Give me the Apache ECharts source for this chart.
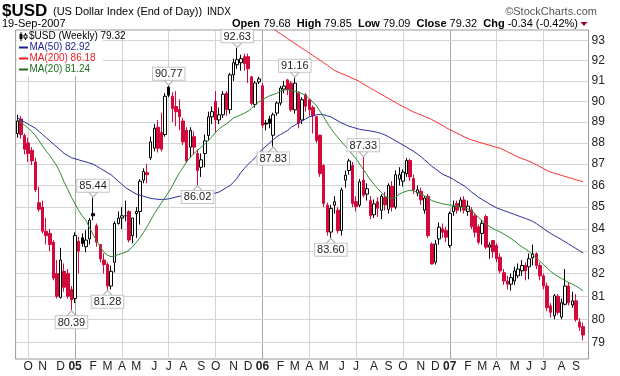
<!DOCTYPE html>
<html><head><meta charset="utf-8">
<script src="https://cdn.jsdelivr.net/npm/echarts@6/dist/echarts.min.js"></script>
<style>html,body{margin:0;padding:0;background:#fff}#c{width:620px;height:376px}</style>
</head><body><div id="c"></div>
<script>
// ---- DATA (weekly bars, first bar = week of 13-Sep-2004) ----
const firstWeek = '2004-09-13';
const open = [88.45,89.15,88.35,88.0,87.65,87.1,85.2,85.0,83.9,83.8,
83.4,82.0,80.95,82.1,82.0,81.3,80.9,83.45,83.6,83.2,
83.55,84.7,84.15,83.3,82.6,82.4,81.45,82.5,84.25,84.5,
84.6,84.8,83.7,84.7,84.8,86.25,86.6,87.3,87.75,88.75,
88.5,88.4,90.7,90.25,89.75,89.6,89.05,88.6,87.8,88.3,
87.5,86.85,87.5,88.35,89.25,90.0,89.1,89.35,90.4,89.6,
91.3,91.8,91.9,92.2,92.2,91.2,89.85,90.95,90.76,88.95,
89.15,88.37,89.43,89.92,90.6,91.05,90.89,89.59,90.4,89.1,
90.32,90.08,89.7,89.26,88.37,86.93,85.09,83.86,85.09,84.86,
83.93,86.25,86.7,86.93,85.25,85.09,86.25,85.6,85.3,84.65,
85.25,84.85,85.45,84.9,85.95,85.0,86.3,86.2,86.55,87.17,
86.32,85.65,85.73,84.86,85.5,83.32,82.51,83.55,84.01,83.93,
83.25,84.79,85.17,85.02,85.33,84.8,84.87,84.6,84.1,83.8,
84.57,83.18,83.48,83.25,82.73,82.04,81.67,81.53,81.67,81.9,
82.12,82.36,82.3,82.7,82.88,82.36,81.9,81.45,80.58,80.15,
81.0,80.1,80.65,81.45,80.62,80.8,79.88,79.68];
const close = [89.05,88.4,87.7,87.5,87.15,85.8,84.9,83.9,83.7,83.3,
81.8,81.0,82.6,81.4,81.0,80.85,83.7,83.0,83.35,83.5,
84.4,84.6,83.4,82.65,82.4,81.45,82.1,84.25,84.5,84.6,
84.6,83.5,84.5,84.8,86.2,86.65,86.5,88.05,88.7,87.75,
87.7,90.25,90.3,89.65,89.5,89.25,88.05,87.15,88.6,87.8,
86.7,87.2,88.1,89.25,89.5,89.1,89.35,90.35,89.6,91.3,
91.9,92.05,92.1,91.85,91.6,89.9,90.9,91.1,88.85,88.9,
88.94,89.35,89.92,90.65,90.75,90.56,89.59,90.89,88.94,90.08,
89.76,89.59,89.3,88.12,86.55,85.17,83.86,84.94,85.25,83.93,
85.79,86.48,87.15,85.17,85.02,86.17,85.55,85.85,84.6,85.15,
84.95,85.5,85.1,86.0,85.0,86.5,86.5,86.62,87.17,86.4,
85.8,85.8,85.33,85.42,83.7,82.43,83.32,84.08,83.85,83.63,
84.71,85.02,84.86,85.33,84.86,85.05,84.1,83.85,83.4,84.26,
83.18,83.28,82.97,82.66,82.12,81.67,81.53,81.82,82.12,82.2,
82.36,82.12,82.66,82.88,82.36,81.9,81.45,80.5,80.3,81.02,
80.3,80.72,81.45,80.72,80.8,79.98,79.66,79.32];
const low = [88.25,88.2,87.45,87.1,86.95,85.7,84.8,83.8,83.3,83.0,
81.7,80.9,80.9,81.2,80.9,80.39,80.7,82.0,83.2,82.95,
83.3,84.4,83.2,82.5,82.0,81.28,81.3,82.05,84.2,84.0,
84.35,83.4,83.35,83.6,84.2,86.1,86.1,87.2,87.6,87.55,
87.6,88.3,90.2,89.0,88.8,88.6,87.9,87.05,87.3,87.45,
86.02,86.4,86.85,88.1,88.9,88.5,88.9,89.2,89.3,89.4,
91.0,91.6,91.5,91.5,90.9,89.8,89.7,90.85,88.7,88.6,
88.7,87.83,89.3,89.8,90.4,90.3,89.5,89.4,88.7,88.9,
89.5,89.3,88.45,88.0,86.4,85.0,83.7,83.6,84.7,83.8,
83.7,85.9,86.5,85.0,84.8,85.0,85.45,85.3,84.45,84.5,
84.55,84.45,84.85,84.7,84.8,84.9,86.0,85.95,86.4,86.2,
85.6,85.5,85.1,84.7,83.6,82.4,82.4,83.3,83.6,83.4,
83.15,84.6,84.7,84.8,84.7,84.6,84.0,83.62,83.3,83.3,
83.1,82.66,82.7,82.5,82.0,81.5,81.3,81.25,81.5,81.8,
81.9,81.7,81.75,82.36,82.2,81.7,81.3,80.35,80.07,80.0,
80.2,80.0,80.6,80.6,80.5,79.9,79.5,79.09];
const high = [89.35,89.3,88.45,88.25,87.8,87.3,85.95,85.3,84.5,84.0,
83.5,82.6,83.15,82.45,82.2,81.45,83.85,83.65,83.8,83.95,
84.5,85.44,84.25,83.3,82.9,82.5,82.35,84.35,84.8,85.0,
85.3,84.85,84.5,85.0,86.3,86.8,87.0,88.3,88.9,89.1,
89.45,90.4,90.77,90.45,90.5,90.1,89.2,88.75,88.75,88.55,
87.7,87.5,88.4,89.5,89.75,90.5,89.7,90.5,90.5,91.4,
92.1,92.63,92.3,92.35,92.35,91.25,91.0,91.2,90.9,89.1,
89.3,89.45,90.0,90.75,91.0,91.1,91.0,91.16,90.5,90.2,
90.4,90.1,89.8,89.3,88.4,87.0,85.2,85.1,85.5,85.0,
85.9,86.7,87.25,87.1,85.5,86.3,87.33,86.1,85.5,85.35,
85.45,85.6,85.7,86.1,86.2,86.7,86.85,86.75,87.28,87.25,
86.5,86.0,85.9,85.5,85.6,83.4,83.5,84.3,84.25,84.1,
84.8,85.3,85.3,85.45,85.5,85.3,85.0,84.72,84.2,84.4,
84.65,83.4,83.5,83.35,82.9,82.2,81.9,82.0,82.3,82.45,
82.6,82.5,82.9,83.3,82.95,82.5,82.0,81.6,80.7,81.1,
81.1,80.9,82.2,81.6,81.2,81.1,80.05,79.85];
const ma50 = [89.2,89.1,89.0,88.9,88.8,88.7,88.55,88.4,88.25,88.1,
87.95,87.8,87.65,87.5,87.4,87.3,87.25,87.2,87.15,87.1,
87.05,87.0,86.9,86.8,86.7,86.6,86.5,86.35,86.2,86.05,
85.9,85.8,85.7,85.6,85.55,85.5,85.45,85.4,85.38,85.36,
85.35,85.36,85.38,85.42,85.46,85.5,85.52,85.52,85.5,85.48,
85.48,85.5,85.52,85.55,85.6,85.65,85.7,85.8,85.9,86.0,
86.15,86.35,86.6,86.8,86.98,87.15,87.3,87.5,87.7,87.85,
88.0,88.15,88.3,88.4,88.5,88.6,88.75,88.85,88.95,89.05,
89.15,89.25,89.3,89.35,89.37,89.35,89.3,89.25,89.15,89.05,
88.95,88.88,88.8,88.75,88.7,88.65,88.62,88.6,88.57,88.54,
88.5,88.45,88.38,88.3,88.2,88.1,88.0,87.9,87.8,87.7,
87.6,87.48,87.35,87.2,87.05,86.9,86.78,86.65,86.52,86.45,
86.38,86.28,86.18,86.08,85.98,85.85,85.7,85.58,85.45,85.35,
85.25,85.15,85.05,84.97,84.9,84.84,84.78,84.72,84.66,84.6,
84.54,84.48,84.42,84.35,84.25,84.14,84.02,83.9,83.8,83.7,
83.62,83.52,83.42,83.32,83.22,83.12,83.02,82.92];
const ma20 = [89.1,89.0,88.85,88.7,88.55,88.35,88.1,87.85,87.6,87.4,
87.15,86.9,86.55,86.15,85.8,85.45,85.15,84.85,84.6,84.4,
84.05,83.75,83.47,83.2,82.95,82.82,82.75,82.78,82.85,82.9,
82.95,83.05,83.2,83.4,83.6,83.85,84.1,84.4,84.7,84.95,
85.2,85.45,85.7,85.98,86.3,86.6,86.85,87.12,87.32,87.5,
87.65,87.8,87.95,88.12,88.3,88.5,88.68,88.8,88.9,89.05,
89.2,89.27,89.35,89.43,89.52,89.67,89.82,89.97,90.08,90.18,
90.27,90.33,90.4,90.5,90.56,90.57,90.55,90.5,90.45,90.38,
90.28,90.14,89.97,89.78,89.52,89.24,88.95,88.7,88.45,88.25,
88.05,87.85,87.65,87.45,87.25,87.0,86.75,86.5,86.25,86.05,
85.85,85.68,85.5,85.42,85.4,85.45,85.6,85.68,85.74,85.78,
85.75,85.68,85.6,85.52,85.42,85.3,85.25,85.2,85.15,85.12,
85.1,85.07,85.03,85.0,84.97,84.92,84.83,84.7,84.52,84.38,
84.23,84.12,84.02,83.94,83.86,83.77,83.67,83.57,83.45,83.32,
83.2,83.1,82.98,82.85,82.7,82.55,82.4,82.25,82.1,81.98,
81.87,81.78,81.7,81.6,81.53,81.45,81.35,81.24];
const ma200Start = 70; // MA(200) is above the chart top before this bar
const ma200Visible = [93.75,93.6,93.47,93.35,93.23,93.1,92.98,92.86,92.74,92.62,
92.5,92.38,92.26,92.14,92.02,91.9,91.78,91.64,91.52,91.44,
91.36,91.29,91.21,91.13,91.06,90.96,90.85,90.75,90.64,90.54,
90.44,90.34,90.24,90.14,90.04,89.94,89.84,89.75,89.66,89.57,
89.48,89.41,89.34,89.27,89.2,89.12,89.03,88.93,88.83,88.73,
88.63,88.55,88.46,88.38,88.29,88.21,88.15,88.1,88.04,87.99,
87.94,87.89,87.84,87.79,87.75,87.67,87.58,87.5,87.41,87.33,
87.26,87.2,87.13,87.06,86.97,86.88,86.79,86.7,86.62,86.57,
86.52,86.47,86.42,86.37,86.32,86.27,86.22,86.18];
const yTicks = [79,80,81,82,83,84,85,86,87,88,89,90,91,92,93];
const highMarks = [21,42,61,77,96];
const lowMarks = [15,25,50,71,87];
const monthLetters = ['J','F','M','A','M','J','J','A','S','O','N','D'];

// ---- BUILD ----
const RED = '#d20a3c';
const FONT = "'Liberation Sans', Arial, sans-serif";
const N = open.length;
const t0 = Date.parse(firstWeek + 'T00:00:00Z');
const cats = [];
for (let i = 0; i <= N; i++) cats.push(new Date(t0 + i * 7 * 86400000).toISOString().slice(0, 10));
const monthOf = s => +s.slice(5, 7);
const isMonthStart = cats.map((c, i) => i > 0 && monthOf(c) !== monthOf(cats[i - 1]));
const ma200 = cats.slice(0, N).map((c, i) => i >= ma200Start ? ma200Visible[i - ma200Start] : null);

const candles = open.map((o, i) => {
  const c = close[i];
  const prev = i > 0 ? close[i - 1] : o;
  const col = c >= prev ? '#000' : RED;
  const fill = c < o ? col : '#fff';
  return { value: [o, c, low[i], high[i]],
    itemStyle: { color: fill, color0: fill, borderColor: col, borderColor0: col, borderColorDoji: col } };
});

const gridLines = [];
cats.forEach((c, i) => {
  const m = monthOf(c);
  if (isMonthStart[i] && (m === 1 || m === 4 || m === 7 || m === 10)) {
    gridLines.push({ xAxis: c, lineStyle: { color: m === 1 ? '#a6a6a6' : '#d4d4d4' } });
  }
});
yTicks.forEach(v => gridLines.push({ yAxis: v,
  label: { show: true, position: 'end', distance: 3, formatter: String(v), color: '#222', fontSize: 12, fontFamily: FONT } }));

const markLabel = { show: true, formatter: p => p.value, backgroundColor: '#fff', borderColor: '#c4c4c4',
  borderWidth: 1, padding: [1, 2, 0, 2], fontSize: 11, lineHeight: 11, color: '#222', fontFamily: FONT, distance: 0 };
const marks = [];
highMarks.forEach(i => marks.push({ coord: [cats[i], high[i]], value: high[i].toFixed(2),
  symbolRotate: 180, symbolOffset: [0, -3], label: Object.assign({}, markLabel, { position: 'top' }) }));
lowMarks.forEach(i => marks.push({ coord: [cats[i], low[i]], value: low[i].toFixed(2),
  symbolRotate: 0, symbolOffset: [0, 3], label: Object.assign({}, markLabel, { position: 'bottom' }) }));

const last = N - 1;
const chart = echarts.init(document.getElementById('c'));
chart.setOption({
  animation: false,
  backgroundColor: '#fff',
  textStyle: { fontFamily: FONT },
  grid: { left: 15.6, right: 31.5, top: 30, bottom: 17, show: true, borderColor: '#999', borderWidth: 1,
    backgroundColor: 'transparent', outerBoundsMode: 'none', containLabel: false },
  xAxis: [{
    type: 'category', data: cats, boundaryGap: true,
    axisLine: { show: false }, axisTick: { show: false }, splitLine: { show: false },
    axisLabel: {
      interval: (idx) => isMonthStart[idx], margin: 2, color: '#222', fontSize: 12, fontFamily: FONT,
      formatter: (v) => { const m = monthOf(v); return m === 1 ? '{y|' + v.slice(2, 4) + '}' : '{m|' + monthLetters[m - 1] + '}'; },
      rich: { y: { fontWeight: 'bold', fontSize: 12, fontFamily: FONT, color: '#222' }, m: { fontSize: 12, fontFamily: FONT, color: '#222' } }
    }
  }],
  yAxis: [{
    type: 'log', logBase: 10, min: 78.3, max: 93.54, position: 'right',
    axisLine: { show: false }, axisTick: { show: false }, axisLabel: { show: false }, splitLine: { show: false }
  }],
  series: [
    { type: 'line', name: 'grid', data: cats.map(() => null), silent: true, showSymbol: false, z: 1,
      markLine: { silent: true, z: 1, symbol: ['none', 'none'], animation: false,
        label: { show: false }, lineStyle: { type: 'solid', width: 1, color: '#d4d4d4' }, data: gridLines } },
    { type: 'candlestick', name: '$USD', data: candles, barWidth: 3, z: 3,
      itemStyle: { borderWidth: 1 },
      markPoint: { silent: true, z: 8, symbol: 'triangle', symbolSize: [9, 5],
        itemStyle: { color: '#fff', borderColor: '#b0b0b0', borderWidth: 1 }, data: marks } },
    { type: 'line', name: 'MA(50)', data: ma50, showSymbol: false, z: 4, lineStyle: { color: '#2b2b99', width: 1 } },
    { type: 'line', name: 'MA(200)', data: ma200, showSymbol: false, z: 4, lineStyle: { color: '#ff2a2a', width: 1 } },
    { type: 'line', name: 'MA(20)', data: ma20, showSymbol: false, z: 4, lineStyle: { color: '#2e8b2e', width: 1 } }
  ],
  graphic: [
    { type: 'text', x: 2, y: 11, z: 100, style: { text: '$USD', font: 'bold 17px ' + FONT, fill: '#000', verticalAlign: 'middle' } },
    { type: 'text', x: 53, y: 12, z: 100, style: { text: '(US Dollar Index (End of Day))', font: '11px ' + FONT, fill: '#000', verticalAlign: 'middle' } },
    { type: 'text', x: 207, y: 12, z: 100, style: { text: 'INDX', font: '10px ' + FONT, fill: '#000', verticalAlign: 'middle' } },
    { type: 'text', x: 597, y: 12, z: 100, style: { text: '\u00A9StockCharts.com', font: '11px ' + FONT, fill: '#555', align: 'right', verticalAlign: 'middle' } },
    { type: 'text', x: 2, y: 24, z: 100, style: { text: '19-Sep-2007', font: '11px ' + FONT, fill: '#000', verticalAlign: 'middle' } },
    { type: 'text', x: 578, y: 24, z: 100, style: {
      text: '{b|Open} ' + open[last].toFixed(2) + '  {b|High} ' + high[last].toFixed(2) + '  {b|Low} ' + low[last].toFixed(2) +
            '  {b|Close} ' + close[last].toFixed(2) + '  {b|Chg} -0.34 (-0.42%)',
      font: '11px ' + FONT, fill: '#000', align: 'right', verticalAlign: 'middle',
      rich: { b: { fontWeight: 'bold', fontSize: 11, fontFamily: FONT, fill: '#000' } } } },
    { type: 'polygon', z: 100, shape: { points: [[580.5, 22], [587.5, 22], [584, 26]] }, style: { fill: '#990033' } },
    // legend box
    { type: 'rect', z: 90, silent: true, shape: { x: 17, y: 31, width: 86, height: 45 }, style: { fill: '#fff' } },
    { type: 'line', z: 100, shape: { x1: 21, y1: 32, x2: 21, y2: 41 }, style: { stroke: '#000', lineWidth: 1 } },
    { type: 'rect', z: 100, shape: { x: 19.5, y: 34, width: 3, height: 5 }, style: { fill: '#000' } },
    { type: 'line', z: 100, shape: { x1: 25.5, y1: 33, x2: 25.5, y2: 40 }, style: { stroke: '#000', lineWidth: 1 } },
    { type: 'rect', z: 100, shape: { x: 24, y: 35, width: 3, height: 3 }, style: { fill: '#fff', stroke: '#000', lineWidth: 1 } },
    { type: 'text', x: 29, y: 36.5, z: 100, style: { text: '$USD (Weekly) ' + close[last].toFixed(2), font: '10px ' + FONT, fill: '#000', verticalAlign: 'middle' } },
    { type: 'line', z: 100, shape: { x1: 19, y1: 47.5, x2: 28, y2: 47.5 }, style: { stroke: '#1f1f8f', lineWidth: 2 } },
    { type: 'text', x: 29.5, y: 47.5, z: 100, style: { text: 'MA(50) ' + ma50[last].toFixed(2), font: '10px ' + FONT, fill: '#1f1f8f', verticalAlign: 'middle' } },
    { type: 'line', z: 100, shape: { x1: 19, y1: 58.5, x2: 28, y2: 58.5 }, style: { stroke: '#ee1c24', lineWidth: 2 } },
    { type: 'text', x: 29.5, y: 58.5, z: 100, style: { text: 'MA(200) ' + ma200[last].toFixed(2), font: '10px ' + FONT, fill: '#ee1c24', verticalAlign: 'middle' } },
    { type: 'line', z: 100, shape: { x1: 19, y1: 69.5, x2: 28, y2: 69.5 }, style: { stroke: '#1e6e1e', lineWidth: 2 } },
    { type: 'text', x: 29.5, y: 69.5, z: 100, style: { text: 'MA(20) ' + ma20[last].toFixed(2), font: '10px ' + FONT, fill: '#1e6e1e', verticalAlign: 'middle' } }
  ]
});
</script>
</body></html>
